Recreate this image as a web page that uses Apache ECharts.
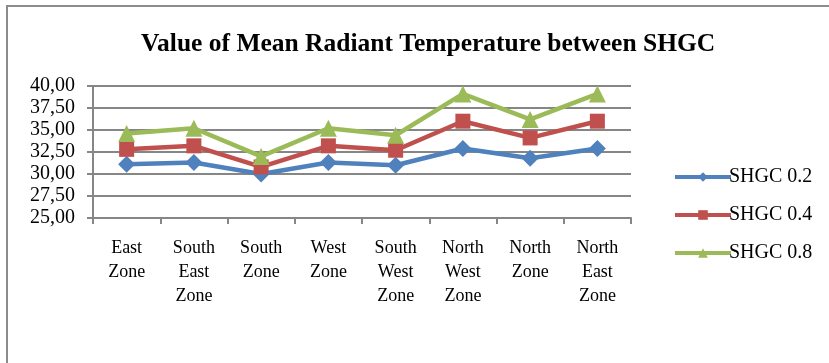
<!DOCTYPE html>
<html>
<head>
<meta charset="utf-8">
<script src="https://cdn.jsdelivr.net/npm/echarts@6/dist/echarts.min.js"></script>
<style>
  html, body { margin: 0; padding: 0; background: #fff; }
  #chart { width: 829px; height: 363px; }
</style>
</head>
<body>
<div id="chart"></div>
<script>
// Zones along the horizontal axis
const zones = ['East Zone', 'South East Zone', 'South Zone', 'West Zone',
               'South West Zone', 'North West Zone', 'North Zone', 'North East Zone'];

// Mean radiant temperature per SHGC value
const shgc02 = [31.1, 31.3, 30.0, 31.3, 31.0, 32.9, 31.8, 32.9];
const shgc04 = [32.8, 33.2, 30.8, 33.2, 32.7, 36.0, 34.1, 36.0];
const shgc08 = [34.6, 35.2, 32.0, 35.2, 34.4, 39.1, 36.2, 39.1];

const seriesNames = ['SHGC 0.2', 'SHGC 0.4', 'SHGC 0.8'];
const colors = ['#4F81BD', '#C0504D', '#9BBB59'];
const symbols = ['diamond', 'rect', 'triangle'];
const symbolSizes = [17, 15, 17];

const FONT = '"Liberation Serif", "Times New Roman", serif';

const chart = echarts.init(document.getElementById('chart'));

const makeSeries = (name, data, i) => ({
  name: name,
  type: 'line',
  data: data,
  symbol: symbols[i],
  symbolSize: symbolSizes[i],
  showAllSymbol: true,
  z: 2 + i,
  lineStyle: { color: colors[i], width: 4.5 },
  itemStyle: { color: colors[i] },
  emphasis: { disabled: true }
});

chart.setOption({
  animation: false,
  graphic: [{
    type: 'rect',
    shape: { x: 7, y: 6, width: 840, height: 400 },
    style: { fill: 'none', stroke: '#8c8c8c', lineWidth: 2 },
    silent: true
  }],
  title: {
    text: 'Value of Mean Radiant Temperature between SHGC',
    left: 136,
    top: 26,
    textStyle: { fontFamily: FONT, fontWeight: 'bold', fontSize: 25.5, color: '#000' }
  },
  legend: {
    orient: 'vertical',
    left: 668,
    top: 162,
    itemWidth: 56,
    itemHeight: 12,
    itemGap: 18,
    lineStyle: { width: 4 },
    textStyle: { fontFamily: FONT, fontSize: 20, color: '#000', padding: [0, 0, 0, -7] },
    data: seriesNames
  },
  grid: { left: 93, right: 198, top: 86, bottom: 145, containLabel: false },
  xAxis: {
    type: 'category',
    data: zones,
    boundaryGap: true,
    axisLine: { lineStyle: { color: '#868686', width: 2 } },
    axisTick: { show: true, length: 6, lineStyle: { color: '#868686', width: 2 } },
    axisLabel: {
      interval: 0,
      margin: 18,
      fontFamily: FONT,
      fontSize: 18,
      lineHeight: 24,
      color: '#000',
      formatter: v => v.split(' ').join('\n')
    }
  },
  yAxis: {
    type: 'value',
    min: 25,
    max: 40,
    interval: 2.5,
    axisLine: { show: true, lineStyle: { color: '#868686', width: 2 } },
    axisTick: { show: true, length: 6, lineStyle: { color: '#868686', width: 2 } },
    splitLine: { lineStyle: { color: '#868686', width: 2 } },
    axisLabel: {
      margin: 18,
      fontFamily: FONT,
      fontSize: 20,
      color: '#000',
      formatter: v => v.toFixed(2).replace('.', ',')
    }
  },
  series: [
    makeSeries(seriesNames[0], shgc02, 0),
    makeSeries(seriesNames[1], shgc04, 1),
    makeSeries(seriesNames[2], shgc08, 2)
  ]
});
</script>
</body>
</html>
